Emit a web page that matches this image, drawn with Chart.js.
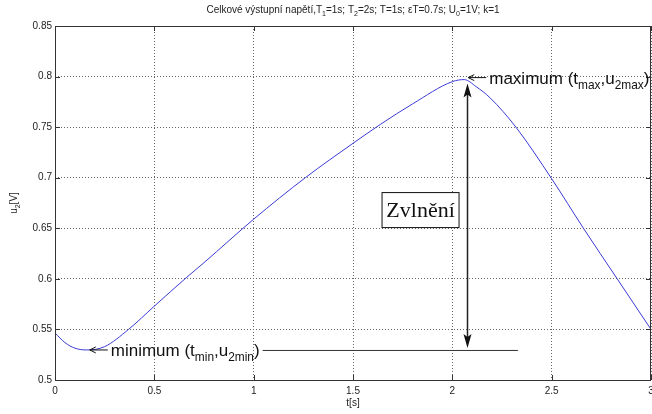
<!DOCTYPE html>
<html lang="cs">
<head>
<meta charset="UTF-8">
<title>Celkové výstupní napětí</title>
<script src="https://cdn.jsdelivr.net/npm/chart.js"></script>
<style>
  html, body { margin: 0; padding: 0; background: #fff; }
  #wrap { width: 652px; height: 414px; }
</style>
</head>
<body>
<div id="wrap"><canvas id="u2Chart" width="652" height="414"></canvas></div>
<script>
// values
const tValues = [0, 0.05, 0.1, 0.16, 0.25, 0.37, 0.5, 0.66, 0.75, 1.0, 1.26, 1.5, 1.64, 1.8, 2.0, 2.06, 2.12, 2.19, 2.32, 2.5, 2.66, 2.83, 3.0];
const u2Values = [0.5465, 0.537, 0.5315, 0.5297, 0.533, 0.550, 0.573, 0.601, 0.616, 0.659, 0.700, 0.734, 0.753, 0.773, 0.795, 0.797, 0.790, 0.779, 0.750, 0.699, 0.650, 0.600, 0.550];
const xTickValues = [0, 0.5, 1, 1.5, 2, 2.5, 3];
const yTickValues = [0.5, 0.55, 0.6, 0.65, 0.7, 0.75, 0.8, 0.85];

// annotation anchors (data units)
const maxPoint = [2.065, 0.797];
const minPoint = [0.16, 0.5297];
const rippleX = 2.075;
const minLineEnd = 2.33;
const boxCenter = [1.84, 0.668];

const FONT = '"Liberation Sans", Arial, sans-serif';

// text with subscript pieces: parts = [[text, isSub], ...]
function richWidth(ctx, parts, size) {
    let w = 0;
    parts.forEach(p => {
        ctx.font = (p[1] ? size * 0.7 : size) + 'px ' + FONT;
        w += ctx.measureText(p[0]).width;
    });
    return w;
}
function drawRich(ctx, parts, x, y, size, align) {
    let w = richWidth(ctx, parts, size);
    let cx = align === 'center' ? x - w / 2 : x;
    ctx.textAlign = 'left';
    ctx.textBaseline = 'alphabetic';
    parts.forEach(p => {
        let s = p[1] ? size * 0.7 : size;
        ctx.font = s + 'px ' + FONT;
        ctx.fillText(p[0], cx, p[1] ? y + size * 0.3 : y);
        cx += ctx.measureText(p[0]).width;
    });
    return cx;
}

const extras = {
    id: 'extras',
    afterDraw(chart) {
        const ctx = chart.ctx;
        const a = chart.chartArea;
        const xs = chart.scales.x, ys = chart.scales.y;
        ctx.save();

        // box and inward ticks
        ctx.strokeStyle = '#333';
        ctx.lineWidth = 1;
        ctx.strokeRect(a.left + 0.5, a.top + 0.5, a.right - a.left - 1, a.bottom - a.top);
        ctx.beginPath();
        xTickValues.forEach(v => {
            let px = Math.round(xs.getPixelForValue(v)) + 0.5;
            ctx.moveTo(px, a.bottom); ctx.lineTo(px, a.bottom - 5);
            ctx.moveTo(px, a.top); ctx.lineTo(px, a.top + 5);
        });
        yTickValues.forEach(v => {
            let py = Math.round(ys.getPixelForValue(v)) + 0.5;
            ctx.moveTo(a.left, py); ctx.lineTo(a.left + 5, py);
            ctx.moveTo(a.right, py); ctx.lineTo(a.right - 5, py);
        });
        ctx.stroke();

        // title and axis titles
        ctx.fillStyle = '#222';
        const mid = (a.left + a.right) / 2;
        drawRich(ctx, [['Celkové výstupní napětí,T', 0], ['1', 1], ['=1s; T', 0], ['2', 1],
            ['=2s; T=1s; εT=0.7s; U', 0], ['0', 1], ['=1V; k=1', 0]], mid, 13, 10, 'center');
        drawRich(ctx, [['t[s]', 0]], mid, 406, 10, 'center');
        ctx.save();
        ctx.translate(17, (a.top + a.bottom) / 2);
        ctx.rotate(-Math.PI / 2);
        drawRich(ctx, [['u', 0], ['2', 1], ['[V]', 0]], 0, 0, 10, 'center');
        ctx.restore();

        ctx.strokeStyle = '#111';
        ctx.fillStyle = '#111';

        // maximum label
        let mx = xs.getPixelForValue(maxPoint[0]) + 3, my = ys.getPixelForValue(maxPoint[1]) - 2;
        ctx.lineWidth = 1;
        ctx.beginPath();
        ctx.moveTo(mx, my); ctx.lineTo(mx + 18, my);
        ctx.moveTo(mx + 6, my - 3); ctx.lineTo(mx, my); ctx.lineTo(mx + 6, my + 3);
        ctx.stroke();
        drawRich(ctx, [['maximum (t', 0], ['max', 1], [',u', 0], ['2max', 1], [')', 0]], mx + 21, my + 6, 17, 'left');

        // minimum label and line
        let nx = xs.getPixelForValue(minPoint[0]) + 3, ny = ys.getPixelForValue(minPoint[1]);
        ctx.beginPath();
        ctx.moveTo(nx, ny); ctx.lineTo(nx + 18, ny);
        ctx.moveTo(nx + 6, ny - 3); ctx.lineTo(nx, ny); ctx.lineTo(nx + 6, ny + 3);
        ctx.stroke();
        let endText = drawRich(ctx, [['minimum (t', 0], ['min', 1], [',u', 0], ['2min', 1], [')', 0]], nx + 21, ny + 6, 17, 'left');
        ctx.strokeStyle = '#333';
        ctx.beginPath();
        ctx.moveTo(endText + 3, ny + 0.5);
        ctx.lineTo(xs.getPixelForValue(minLineEnd), ny + 0.5);
        ctx.stroke();

        // ripple double arrow
        let rx = Math.round(xs.getPixelForValue(rippleX)) + 0.5;
        let top = ys.getPixelForValue(maxPoint[1]) + 4;
        let bot = ys.getPixelForValue(minPoint[1]) - 2;
        ctx.strokeStyle = '#222';
        ctx.lineWidth = 1.5;
        ctx.beginPath();
        ctx.moveTo(rx, top + 8); ctx.lineTo(rx, bot - 8);
        ctx.stroke();
        ctx.beginPath();
        ctx.moveTo(rx, top); ctx.lineTo(rx - 4, top + 14); ctx.lineTo(rx, top + 11); ctx.lineTo(rx + 4, top + 14);
        ctx.closePath(); ctx.fill();
        ctx.beginPath();
        ctx.moveTo(rx, bot); ctx.lineTo(rx - 4, bot - 14); ctx.lineTo(rx, bot - 11); ctx.lineTo(rx + 4, bot - 14);
        ctx.closePath(); ctx.fill();

        // Zvlnění box
        let bx = xs.getPixelForValue(boxCenter[0]), by = ys.getPixelForValue(boxCenter[1]);
        ctx.font = '22px "Liberation Serif", "Times New Roman", serif';
        ctx.fillStyle = '#fff';
        ctx.fillRect(bx - 38.5, by - 17.5, 77, 35);
        ctx.strokeStyle = '#111';
        ctx.lineWidth = 1;
        ctx.strokeRect(bx - 38.5, by - 17.5, 77, 35);
        ctx.fillStyle = '#111';
        ctx.textAlign = 'center';
        ctx.textBaseline = 'middle';
        ctx.fillText('Zvlnění', bx, by + 1);

        ctx.restore();
    }
};

const ctx = document.getElementById('u2Chart').getContext('2d');
const points = tValues.map((t, i) => ({ x: t, y: u2Values[i] }));
const fmt = v => String(+Number(v).toFixed(2));

new Chart(ctx, {
    type: 'line',
    data: {
        datasets: [{
            data: points,
            borderColor: '#3a3ad6',
            borderWidth: 1,
            pointRadius: 0,
            fill: false,
            cubicInterpolationMode: 'monotone'
        }]
    },
    options: {
        responsive: false,
        animation: false,
        events: [],
        layout: { padding: { top: 26, right: 1, left: 0, bottom: 0 } },
        plugins: { legend: { display: false }, title: { display: false }, tooltip: { enabled: false } },
        scales: {
            x: {
                type: 'linear', min: 0, max: 3,
                afterFit: s => { s.height = 34; s.paddingLeft = 0; s.paddingRight = 0; },
                afterBuildTicks: s => { s.ticks = xTickValues.map(v => ({ value: v })); },
                grid: { color: '#666', drawTicks: false },
                border: { display: false, dash: [1, 2] },
                ticks: { padding: 5, color: '#222', font: { family: FONT, size: 10 }, callback: fmt, maxRotation: 0 }
            },
            y: {
                min: 0.5, max: 0.85,
                afterFit: s => { s.width = 55; s.paddingTop = 0; s.paddingBottom = 0; },
                afterBuildTicks: s => { s.ticks = yTickValues.map(v => ({ value: v })); },
                grid: { color: '#666', drawTicks: false },
                border: { display: false, dash: [1, 2] },
                ticks: { padding: 3, color: '#222', font: { family: FONT, size: 10 }, callback: fmt }
            }
        }
    },
    plugins: [extras]
});
</script>
</body>
</html>
